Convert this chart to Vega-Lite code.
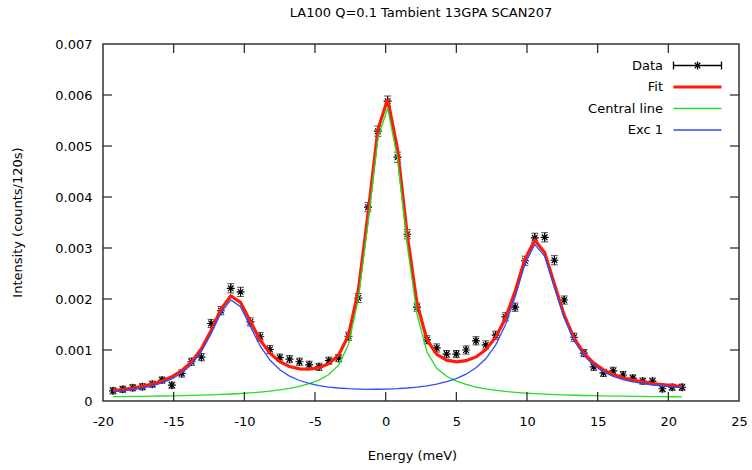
{
  "$schema": "https://vega.github.io/schema/vega-lite/v6.json",
  "width": 636,
  "height": 357,
  "autosize": {"type": "none"},
  "padding": {"left": 103, "top": 44, "right": 13, "bottom": 69},
  "background": "white",
  "config": {
    "font": "DejaVu Sans",
    "view": {"stroke": "#333333", "strokeWidth": 1.5},
    "axis": {
      "labelFont": "DejaVu Sans", "labelFontSize": 13, "labelColor": "black", "labelFlush": false,
      "titleFont": "DejaVu Sans", "titleFontSize": 13, "titleFontWeight": "normal", "titleColor": "black",
      "domain": false, "ticks": false, "tickSize": 0, "grid": false
    }
  },
  "title": {"text": "LA100 Q=0.1 Tambient 13GPA SCAN207", "fontSize": 13, "fontWeight": "normal", "font": "DejaVu Sans", "anchor": "middle", "offset": 18, "color": "black"},
  "datasets": {
    "xticks": [{"v": -15}, {"v": -10}, {"v": -5}, {"v": 0}, {"v": 5}, {"v": 10}, {"v": 15}, {"v": 20}],
    "yticks": [{"v": 0.001}, {"v": 0.002}, {"v": 0.003}, {"v": 0.004}, {"v": 0.005}, {"v": 0.006}]
  },
  "data": {"values": [
    {"e": -19.29, "i": 0.00020, "err": 0.00006, "fit": 0.000206, "cen": 0.000086, "exc": 0.000180},
    {"e": -18.60, "i": 0.00023, "err": 0.00006, "fit": 0.000226, "cen": 0.000087, "exc": 0.000199},
    {"e": -17.90, "i": 0.00026, "err": 0.00006, "fit": 0.000253, "cen": 0.000090, "exc": 0.000223},
    {"e": -17.21, "i": 0.00028, "err": 0.00006, "fit": 0.000287, "cen": 0.000092, "exc": 0.000255},
    {"e": -16.51, "i": 0.00033, "err": 0.00006, "fit": 0.000332, "cen": 0.000095, "exc": 0.000297},
    {"e": -15.82, "i": 0.00041, "err": 0.00006, "fit": 0.000392, "cen": 0.000098, "exc": 0.000354},
    {"e": -15.13, "i": 0.00031, "err": 0.00006, "fit": 0.000474, "cen": 0.000101, "exc": 0.000433},
    {"e": -14.43, "i": 0.00054, "err": 0.00007, "fit": 0.000594, "cen": 0.000105, "exc": 0.000549},
    {"e": -13.74, "i": 0.00077, "err": 0.00007, "fit": 0.000767, "cen": 0.000110, "exc": 0.000717},
    {"e": -13.04, "i": 0.00086, "err": 0.00007, "fit": 0.001024, "cen": 0.000115, "exc": 0.000969},
    {"e": -12.35, "i": 0.00152, "err": 0.00008, "fit": 0.001382, "cen": 0.000121, "exc": 0.001321},
    {"e": -11.66, "i": 0.00177, "err": 0.00008, "fit": 0.001796, "cen": 0.000128, "exc": 0.001728},
    {"e": -10.96, "i": 0.00221, "err": 0.00009, "fit": 0.002059, "cen": 0.000137, "exc": 0.001982},
    {"e": -10.27, "i": 0.00214, "err": 0.00009, "fit": 0.001935, "cen": 0.000147, "exc": 0.001848},
    {"e": -9.57, "i": 0.00155, "err": 0.00008, "fit": 0.001557, "cen": 0.000159, "exc": 0.001458},
    {"e": -8.88, "i": 0.00126, "err": 0.00008, "fit": 0.001194, "cen": 0.000174, "exc": 0.001080},
    {"e": -8.19, "i": 0.00101, "err": 0.00008, "fit": 0.000936, "cen": 0.000193, "exc": 0.000803},
    {"e": -7.49, "i": 0.00085, "err": 0.00007, "fit": 0.000770, "cen": 0.000217, "exc": 0.000613},
    {"e": -6.80, "i": 0.00082, "err": 0.00007, "fit": 0.000675, "cen": 0.000247, "exc": 0.000488},
    {"e": -6.10, "i": 0.00077, "err": 0.00007, "fit": 0.000629, "cen": 0.000286, "exc": 0.000402},
    {"e": -5.41, "i": 0.00071, "err": 0.00007, "fit": 0.000623, "cen": 0.000339, "exc": 0.000344},
    {"e": -4.72, "i": 0.00067, "err": 0.00007, "fit": 0.000654, "cen": 0.000411, "exc": 0.000303},
    {"e": -4.02, "i": 0.00079, "err": 0.00007, "fit": 0.000732, "cen": 0.000518, "exc": 0.000274},
    {"e": -3.33, "i": 0.00084, "err": 0.00007, "fit": 0.000898, "cen": 0.000703, "exc": 0.000255},
    {"e": -2.63, "i": 0.00127, "err": 0.00008, "fit": 0.001290, "cen": 0.001109, "exc": 0.000241},
    {"e": -1.94, "i": 0.00202, "err": 0.00009, "fit": 0.002160, "cen": 0.001987, "exc": 0.000233},
    {"e": -1.25, "i": 0.00380, "err": 0.00009, "fit": 0.003663, "cen": 0.003494, "exc": 0.000229},
    {"e": -0.55, "i": 0.00529, "err": 0.00010, "fit": 0.005321, "cen": 0.005151, "exc": 0.000230},
    {"e": 0.14, "i": 0.00588, "err": 0.00010, "fit": 0.005919, "cen": 0.005745, "exc": 0.000234},
    {"e": 0.84, "i": 0.00478, "err": 0.00010, "fit": 0.004935, "cen": 0.004753, "exc": 0.000242},
    {"e": 1.53, "i": 0.00327, "err": 0.00009, "fit": 0.003248, "cen": 0.003053, "exc": 0.000255},
    {"e": 2.22, "i": 0.00184, "err": 0.00008, "fit": 0.001909, "cen": 0.001696, "exc": 0.000273},
    {"e": 2.92, "i": 0.00120, "err": 0.00008, "fit": 0.001201, "cen": 0.000963, "exc": 0.000298},
    {"e": 3.61, "i": 0.00104, "err": 0.00008, "fit": 0.000914, "cen": 0.000642, "exc": 0.000332},
    {"e": 4.31, "i": 0.00092, "err": 0.00007, "fit": 0.000802, "cen": 0.000484, "exc": 0.000378},
    {"e": 5.00, "i": 0.00092, "err": 0.00007, "fit": 0.000769, "cen": 0.000389, "exc": 0.000440},
    {"e": 5.69, "i": 0.00100, "err": 0.00008, "fit": 0.000790, "cen": 0.000324, "exc": 0.000526},
    {"e": 6.39, "i": 0.00118, "err": 0.00008, "fit": 0.000864, "cen": 0.000274, "exc": 0.000650},
    {"e": 7.08, "i": 0.00110, "err": 0.00008, "fit": 0.001006, "cen": 0.000238, "exc": 0.000828},
    {"e": 7.78, "i": 0.00129, "err": 0.00008, "fit": 0.001246, "cen": 0.000210, "exc": 0.001096},
    {"e": 8.47, "i": 0.00165, "err": 0.00008, "fit": 0.001617, "cen": 0.000188, "exc": 0.001489},
    {"e": 9.16, "i": 0.00184, "err": 0.00008, "fit": 0.002153, "cen": 0.000170, "exc": 0.002043},
    {"e": 9.86, "i": 0.00275, "err": 0.00009, "fit": 0.002786, "cen": 0.000156, "exc": 0.002690},
    {"e": 10.55, "i": 0.00320, "err": 0.00009, "fit": 0.003154, "cen": 0.000144, "exc": 0.003070},
    {"e": 11.25, "i": 0.00321, "err": 0.00009, "fit": 0.002913, "cen": 0.000134, "exc": 0.002839},
    {"e": 11.94, "i": 0.00276, "err": 0.00009, "fit": 0.002290, "cen": 0.000126, "exc": 0.002224},
    {"e": 12.63, "i": 0.00198, "err": 0.00008, "fit": 0.001685, "cen": 0.000119, "exc": 0.001626},
    {"e": 13.33, "i": 0.00125, "err": 0.00008, "fit": 0.001234, "cen": 0.000113, "exc": 0.001181},
    {"e": 14.02, "i": 0.00094, "err": 0.00007, "fit": 0.000941, "cen": 0.000108, "exc": 0.000893},
    {"e": 14.72, "i": 0.00067, "err": 0.00007, "fit": 0.000743, "cen": 0.000104, "exc": 0.000699},
    {"e": 15.41, "i": 0.00055, "err": 0.00007, "fit": 0.000611, "cen": 0.000100, "exc": 0.000571},
    {"e": 16.10, "i": 0.00059, "err": 0.00007, "fit": 0.000520, "cen": 0.000097, "exc": 0.000483},
    {"e": 16.80, "i": 0.00051, "err": 0.00007, "fit": 0.000454, "cen": 0.000094, "exc": 0.000420},
    {"e": 17.49, "i": 0.00045, "err": 0.00006, "fit": 0.000408, "cen": 0.000091, "exc": 0.000377},
    {"e": 18.19, "i": 0.00039, "err": 0.00006, "fit": 0.000375, "cen": 0.000089, "exc": 0.000346},
    {"e": 18.88, "i": 0.00039, "err": 0.00006, "fit": 0.000341, "cen": 0.000087, "exc": 0.000314},
    {"e": 19.58, "i": 0.00024, "err": 0.00006, "fit": 0.000324, "cen": 0.000085, "exc": 0.000299},
    {"e": 20.27, "i": 0.00027, "err": 0.00006, "fit": 0.000301, "cen": 0.000083, "exc": 0.000278},
    {"e": 20.97, "i": 0.00027, "err": 0.00006, "fit": 0.000284, "cen": 0.000082, "exc": 0.000262}
  ]},
  "layer": [
    {
      "mark": {"type": "errorbar", "ticks": {"size": 7}, "color": "black", "thickness": 1},
      "encoding": {
        "x": {"field": "e", "type": "quantitative", "scale": {"domain": [-20, 25], "nice": false, "zero": false}, "axis": null},
        "y": {"field": "i", "type": "quantitative", "scale": {"domain": [0, 0.007], "nice": false}, "axis": null},
        "yError": {"field": "err"}
      }
    },
    {
      "mark": {"type": "point", "shape": "M-1,0H1M0,-1V1M-0.7,-0.7L0.7,0.7M-0.7,0.7L0.7,-0.7", "size": 64, "filled": false, "strokeWidth": 1.2, "opacity": 1},
      "encoding": {
        "x": {"field": "e", "type": "quantitative", "axis": null},
        "y": {"field": "i", "type": "quantitative", "axis": null},
        "color": {"datum": "Data", "type": "nominal"}
      }
    },
    {
      "mark": {"type": "line", "strokeWidth": 3.2},
      "encoding": {
        "x": {"field": "e", "type": "quantitative",
              "axis": {"orient": "bottom", "values": [-20, -15, -10, -5, 0, 5, 10, 15, 20, 25], "labelExpr": "'' + datum.value", "labelPadding": 14, "title": "Energy (meV)", "titleX": 309, "titleY": 54, "titleBaseline": "middle"}},
        "y": {"field": "fit", "type": "quantitative",
              "axis": {"orient": "left", "values": [0, 0.001, 0.002, 0.003, 0.004, 0.005, 0.006, 0.007], "labelExpr": "datum.value == 0 ? '0' : format(datum.value, '.3f')", "labelPadding": 11, "title": "Intensity (counts/120s)", "titleX": -86, "titleY": 178, "titleBaseline": "middle"}},
        "color": {"datum": "Fit", "type": "nominal",
          "scale": {"domain": ["Data", "Fit", "Central line", "Exc 1"], "range": ["black", "#ff1a0a", "#22dd22", "#2b4cff"]},
          "legend": {
            "title": null, "orient": "none", "legendX": 588, "legendY": 15,
            "symbolType": "stroke", "symbolSize": 2304, "symbolStrokeWidth": 1.3,
            "labelAlign": "right", "labelOffset": -41, "labelFontSize": 13, "labelFont": "DejaVu Sans", "labelColor": "black",
            "rowPadding": 7.5, "padding": 0,
            "encode": {"symbols": {"update": {
              "shape": {"signal": "datum.value === 'Data' ? 'M-1,-0.17L-1,0.17M-1,0L1,0M1,-0.17L1,0.17M0,-0.17L0,0.17M-0.12,-0.12L0.12,0.12M-0.12,0.12L0.12,-0.12' : 'stroke'"},
              "strokeWidth": {"signal": "datum.value === 'Fit' ? 3 : 1.3"}
            }}}
          }
        }
      }
    },
    {
      "mark": {"type": "line", "strokeWidth": 1.3},
      "encoding": {
        "x": {"field": "e", "type": "quantitative", "axis": null},
        "y": {"field": "cen", "type": "quantitative", "axis": null},
        "color": {"datum": "Central line", "type": "nominal"}
      }
    },
    {
      "mark": {"type": "line", "strokeWidth": 1.3},
      "encoding": {
        "x": {"field": "e", "type": "quantitative", "axis": null},
        "y": {"field": "exc", "type": "quantitative", "axis": null},
        "color": {"datum": "Exc 1", "type": "nominal"}
      }
    },
    {
      "data": {"name": "xticks"},
      "mark": {"type": "tick", "orient": "vertical", "size": 9, "thickness": 1.2, "yOffset": -4.5, "color": "#222222", "opacity": 1},
      "encoding": {
        "x": {"field": "v", "type": "quantitative", "axis": null},
        "y": {"datum": 0, "type": "quantitative", "axis": null}
      }
    },
    {
      "data": {"name": "xticks"},
      "mark": {"type": "tick", "orient": "vertical", "size": 9, "thickness": 1.2, "yOffset": 4.5, "color": "#222222", "opacity": 1},
      "encoding": {
        "x": {"field": "v", "type": "quantitative", "axis": null},
        "y": {"datum": 0.007, "type": "quantitative", "axis": null}
      }
    },
    {
      "data": {"name": "yticks"},
      "mark": {"type": "tick", "orient": "horizontal", "size": 9, "thickness": 1.2, "xOffset": 4.5, "color": "#222222", "opacity": 1},
      "encoding": {
        "y": {"field": "v", "type": "quantitative", "axis": null},
        "x": {"datum": -20, "type": "quantitative", "axis": null}
      }
    },
    {
      "data": {"name": "yticks"},
      "mark": {"type": "tick", "orient": "horizontal", "size": 9, "thickness": 1.2, "xOffset": -4.5, "color": "#222222", "opacity": 1},
      "encoding": {
        "y": {"field": "v", "type": "quantitative", "axis": null},
        "x": {"datum": 25, "type": "quantitative", "axis": null}
      }
    }
  ],
  "resolve": {"axis": {"x": "independent", "y": "independent"}}
}
